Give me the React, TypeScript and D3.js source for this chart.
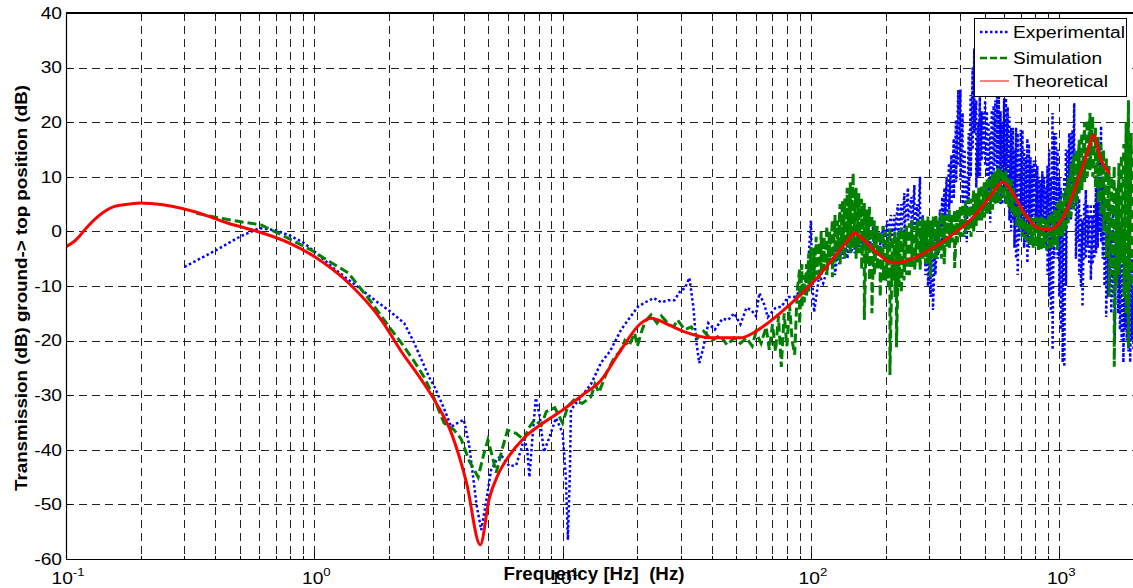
import React from 'react';
import * as d3 from 'd3';

// ---------- data ----------
const theoFreq = [0.1,0.11,0.12,0.135,0.155,0.18,0.2,0.22,0.33,0.45,0.56,0.79,1.0,1.37,1.86,2.24,2.7,3.1,3.56,4.1,4.66,5.06,5.5,6.05,7.0,8.4,10,12,14.3,17,20.7,22.7,27,31,40,52,60,67,86,107,125,141,150,160,185,215,261,300,356,452,520,593,650,720,823,905,1040,1190,1300,1370,1475,1590];
const theoDb = [-2.8,-1.5,0.5,2.8,4.5,5.0,5.2,5.1,3.6,1.5,0.3,-2.1,-4.6,-9.4,-16.2,-22,-27.2,-31.5,-36.9,-46,-57.4,-49,-44.5,-41.3,-37.8,-35,-32.7,-30,-27.2,-22,-16.8,-15.9,-17.2,-18.4,-19.5,-19.5,-18.3,-16.8,-12.6,-8.3,-4.5,-1.6,-0.3,-1.2,-4,-5.8,-4.9,-3.4,-1.2,2.7,6,9.0,7,3.5,0.6,0.3,2.7,9.4,14.5,17.6,13,10.7];

// Experimental, low-frequency part: [Hz, dB]
const experimentalLow: [number, number][] = [
  [0.3,-6.5],[0.4,-3.5],[0.5,-1],[0.6,0.6],[0.7,0.2],[0.8,-0.8],[0.9,-2],[1.04,-4.3],[1.2,-6.8],[1.5,-10.2],[1.8,-13],[2.0,-14.5],[2.3,-16.8],[2.5,-20],[2.9,-26.7],[3.05,-28.5],[3.3,-32],[3.56,-35.8],[3.8,-35],[4.0,-34.5],[4.2,-39],[4.5,-50],[4.7,-54.7],[4.9,-50],[5.15,-43.7],[5.4,-42],[5.66,-41],[6.1,-43],[6.5,-42.8],[6.8,-40],[7.0,-37.7],[7.2,-40],[7.35,-45],[7.55,-38],[7.8,-30.5],[8.1,-34],[8.4,-40.4],[8.8,-38],[9.4,-34.2],[10,-36.9],[10.3,-45],[10.5,-56.5],[10.7,-44],[10.8,-32.7],[12,-30],[13,-28],[14.3,-24],[15.5,-22],[17.2,-18],[18.5,-16],[20.1,-13.8],[21.5,-13],[23.3,-12.2],[25,-13],[26.6,-12.6],[28.2,-12.6],[30,-10.7],[31,-10.5],[32.4,-8.5],[33.6,-13.8],[34.5,-20],[35.5,-24.1],[36.8,-21.5],[38.6,-16.8],[41,-18],[44,-16],[46.5,-16.2],[49,-15],[52,-17],[55,-14],[57.5,-14.4],[60,-15.5],[62,-11.3],[65,-13.5],[67,-15.7],[72,-14],[76,-13.8],[81,-12],[86,-12],[90,-11],[95,-10],[97,-7.6],[100,2],[101,-8],[103,-14.8],[108,-8],[112,-9.5],[118,-6],[123,-3.4]
];
// Experimental, noisy high-frequency part: [Hz, upper dB, lower dB]
const experimentalHigh: [number, number, number][] = [
  [125,-3,-8],[130,-1,-6],[135,-1,-5],[140,-2,-5],[145,-1,-4],[150,-1,-4],[155,0,-3],[160,-1,-3],[166,0,-2],[172,0.3,-3],[178,1,-2],[184,1,-2],[190,0,-3],[196,1,-3],[203,2,-2],[210,3,-2],[217,3,-1],[224,5,-1],[231,5,0],[238,7,0],[246,8,2],[254,6.3,-1],[261,8.5,1],[268,5,-1.6],[275,10,2],[282,3,-2],[289,-1,-8],[296,-2,-10],[303,-3,-12],[310,-4,-14.4],[317,0,-8],[324,2,-5],[331,4,-3],[338,6.3,-2],[345,8,0],[352,10,2],[360,12.5,4],[368,14,5],[376,17,6],[384,20.4,9],[392,25.9,12],[400,26,9.4],[408,21.7,5],[416,15,-1],[424,10,-2],[432,18,5],[440,25,10],[448,30,15],[455,33.5,18],[463,24,8],[471,20,10],[479,24.6,10],[487,22,13],[495,21.7,14],[503,24,12],[511,22,10],[519,20,5],[527,18,1.6],[535,22.2,8],[544,23,10],[553,24,12],[562,24.7,10],[571,24.6,8],[580,22,5],[590,20,5],[600,24.4,8],[610,24.4,10],[620,22.8,6],[630,21,2],[640,19,0],[650,19,2],[660,15,-3],[670,19,-5],[680,18,-8],[690,14,-1.6],[700,18.6,2],[711,18.6,0],[722,15,-3],[733,13.6,-2],[744,17,-5.8],[755,16,-3],[766,13.6,0],[778,12,2],[790,13,3],[803,13,0],[816,12,2],[829,10,0],[842,9.4,1],[855,11,2],[869,10,-2],[883,8,-3],[897,12,-8],[911,15,-12],[925,10,-15],[940,21.7,-21.7],[955,18,-5],[970,18,0],[985,15,-5],[1000,10,-12],[1016,8,-18],[1032,5,-24],[1048,10,-24.8],[1064,15,-10],[1080,15,5],[1097,18,5],[1114,18,2],[1131,18.6,5],[1149,23.5,5],[1167,10,-5],[1185,8,-2],[1203,6,-8],[1222,3,-10],[1241,2,-13.8],[1260,5,-5],[1280,7.6,-5],[1300,5,-3],[1320,3,-6],[1340,5,-8.9],[1362,3,-6],[1384,5,-5],[1406,8,-4],[1428,10,-3],[1451,15,0],[1474,19.3,-2],[1497,10,-5],[1521,5,-10],[1545,3,-15.7],[1570,0,-12],[1595,5,-10],[1620,0,-15],[1646,5,-12],[1672,0,-19.4],[1700,3,-10],[1727,-5,-15],[1755,0,-18],[1783,-5,-20],[1812,2,-24],[1841,0,-18],[1870,-5,-20],[1900,-10,-22],[1930,-8,-24],[1960,-5,-20],[1990,-10,-22]
];

// Simulation, low-frequency part: [Hz, dB]
const simulationLow: [number, number][] = [
  [0.335,3.3],[0.4,2.6],[0.5,1.8],[0.61,1.2],[0.75,-0.8],[0.97,-3.4],[1.15,-5.5],[1.37,-7.6],[1.7,-13],[2.04,-18],[2.24,-20.4],[2.5,-23.5],[2.77,-26.7],[3.0,-30],[3.33,-35.1],[3.66,-36.4],[3.9,-38],[4.2,-42],[4.57,-45],[4.8,-41],[5.0,-38.2],[5.2,-41],[5.4,-44.2],[5.7,-40],[6.0,-36.4],[6.5,-37],[7.0,-38.2],[7.3,-36],[7.7,-34.5],[8.2,-35.5],[8.6,-33],[9.3,-32.3],[10,-35.1],[10.5,-32],[11.1,-30.9],[12,-31.5],[13,-30.3],[13.5,-28],[14,-29.5],[15,-26],[16.2,-23],[17,-22],[17.8,-20],[18.5,-21],[19.5,-18.6],[20,-21],[20.7,-18.6],[21.5,-16.5],[22.7,-15.3],[24,-16.8],[25,-15.5],[26.5,-16.8],[28,-17.5],[29,-16.2],[31,-18],[33,-17.5],[35,-19.5],[37,-18.3],[40,-20],[43,-19],[46,-20.8],[49,-19.5],[52,-20.5],[55,-19.5],[58,-21],[60,-18.5],[63,-20.5],[66,-17.5],[68,-21.7],[70,-17],[72,-22],[74,-15.5],[76,-24.8],[78,-15],[80,-21],[82,-13.5],[84,-20],[86,-22.6],[88,-11]
];
// Simulation, noisy high-frequency part: [Hz, upper dB, lower dB]
const simulationHigh: [number, number, number][] = [
  [90,-7,-17],[92,-6,-14],[94,-8,-13],[96,-6,-12],[98,-4,-11],[100,-2.9,-10],[103,-3,-9],[105,-1,-8],[108,-2,-9],[110,0,-8],[113,-1,-7],[116,1,-8],[119,0,-6],[122,2.1,-8.4],[125,3,-6],[128,2,-5],[131,5,-6],[134,5.7,-4],[137,6,-5.2],[140,8,-3],[144,9,-4],[148,10.7,-3],[152,8,-5],[156,7,-4],[160,6,-7],[164,5.2,-16.2],[168,4,-6],[172,4.5,-9],[176,3,-15],[180,2,-8],[185,1,-7],[190,0,-12],[195,1,-9],[200,0,-9],[205,-1,-10],[208,0.8,-26.3],[213,-1,-9],[218,0,-12],[221,-1,-21.2],[226,0,-10],[231,0.8,-11.3],[237,0,-9],[243,1,-8],[249,1.5,-8],[255,2.1,-6.5],[262,1,-7],[268,2,-6],[275,2,-7],[282,2.5,-5],[289,2,-6],[296,2.7,-6],[303,2,-8.4],[311,2.7,-5],[319,3,-5],[327,2,-4],[335,3.5,-5],[344,3,-6],[352,3,-3],[361,4,-3],[370,3,-2],[379,3.9,-6.7],[389,4,-2],[399,4.5,-1],[409,5,-1],[419,5.5,-0.5],[430,6,0],[441,6,-1],[452,7.6,0],[463,7,1],[475,8,2],[487,8.5,2],[499,9,2.5],[512,9.5,3],[525,10,3.5],[538,10.5,4],[552,11,5],[566,11.6,5.2],[580,11.6,5.5],[595,11,6],[610,11.2,5],[625,10,4.5],[641,9.5,3.5],[657,8,2.5],[674,6,1],[691,4.5,0.3],[709,4,-1],[727,3.5,-1.5],[745,3,-2],[764,2.7,-2.5],[784,2.5,-3],[804,2.7,-3],[824,2.5,-3.4],[845,2.7,-3.4],[867,2.5,-3],[889,2.5,-3.5],[911,3,-3.5],[934,3.5,-3],[958,4,-2.5],[983,5.2,-3.4],[1008,6,-1],[1034,7,-1],[1060,8,0],[1087,10,1.5],[1115,12.5,2.7],[1143,14,4],[1173,15,5],[1203,16.8,7],[1233,18,7.6],[1265,20,9],[1297,20.5,10],[1330,21.7,11.2],[1364,21,10],[1399,19,8],[1435,17.3,5.2],[1472,16,3],[1509,15,0],[1548,13.6,-4.7],[1587,12,-12],[1628,10,-8],[1665,12,-24.8],[1700,8,-10],[1740,12.5,-8],[1780,14,-5.8],[1820,16,-12],[1860,20,-15],[1900,24,-21.2],[1950,18,-10],[1995,15,-8]
];

const yTicks = [40, 30, 20, 10, 0, -10, -20, -30, -40, -50, -60];
const xDecades = [-1, 0, 1, 2, 3];
const legendItems = ['Experimental', 'Simulation', 'Theoretical'];

// ---------- layout ----------
const W = 1133, H = 588;
const L = 66, R = 1134, T = 13, B = 559;
const FONT = "'Liberation Sans', Arial, Helvetica, sans-serif";

const x = d3.scaleLog().domain([0.1, 2000]).range([L, R]);
const y = d3.scaleLinear().domain([-60, 40]).range([B, T]);

const line = d3.line<[number, number]>().x(d => x(d[0])).y(d => y(d[1]));
const smooth = d3.line<[number, number]>().x(d => x(d[0])).y(d => y(d[1])).curve(d3.curveMonotoneX);

// noisy band: each entry is drawn as a swing from its upper to its lower value
const toSwing = (rows: [number, number, number][]): [number, number][] =>
  rows.flatMap(([f, hi, lo]) => [[f, hi], [f, lo]] as [number, number][]);

export default function App() {
  const theo: [number, number][] = theoFreq.map((f, i) => [f, theoDb[i]]);
  const experimental = [...experimentalLow, ...toSwing(experimentalHigh)];
  const simulation = [...simulationLow, ...toSwing(simulationHigh)];

  const gridX: number[] = [];
  const minorX: number[] = [];
  for (const k of [-1, 0, 1, 2, 3]) {
    for (let m = 1; m <= 9; m++) {
      const v = m * Math.pow(10, k);
      if (v <= 0.1 || v > 2000) continue;
      gridX.push(v);
      if (m !== 1) minorX.push(v);
    }
  }
  const legendColors = ['#0000ff', '#008000', '#ff0000'];
  const legendDash = ['2.5 2.5', '7 3', ''];
  const legendW = [2.5, 2.5, 1];
  const legendLen = [112, 89, 95];
  const legendRowY = [32, 58, 81];

  return (
    <svg width={W} height={H} style={{ position: 'absolute', left: 0, top: 0, background: '#fff' }} fontFamily={FONT}>
      <defs>
        <clipPath id="plotclip">
          <rect x={L} y={T} width={W - L} height={B - T} />
        </clipPath>
      </defs>
      <rect x={0} y={0} width={W} height={H} fill="#fff" />
      {/* grid */}
      <g stroke="#222" strokeWidth={1} strokeDasharray="8 5">
        {gridX.map(v => (
          <line key={'gx' + v} x1={Math.round(x(v)) + 0.5} x2={Math.round(x(v)) + 0.5} y1={T} y2={B} />
        ))}
        {yTicks.filter(t => t !== 40 && t !== -60).map(t => (
          <line key={'gy' + t} x1={L} x2={W} y1={Math.round(y(t)) + 0.5} y2={Math.round(y(t)) + 0.5} />
        ))}
      </g>
      {/* ticks */}
      <g stroke="#000" strokeWidth={1}>
        {gridX.map(v => {
          const px = Math.round(x(v)) + 0.5;
          const len = minorX.includes(v) ? 3 : 6;
          return <g key={'t' + v}>
            <line x1={px} x2={px} y1={B} y2={B - len} />
            <line x1={px} x2={px} y1={T} y2={T + len} />
          </g>;
        })}
        {yTicks.map(t => (
          <line key={'yt' + t} x1={L} x2={L + 6} y1={Math.round(y(t)) + 0.5} y2={Math.round(y(t)) + 0.5} />
        ))}
      </g>
      {/* data */}
      <g clipPath="url(#plotclip)" fill="none">
        <path d={line(experimental) || ''} stroke="#0000ff" strokeWidth={2.5} strokeDasharray="2.5 2.5" />
        <path d={line(simulation) || ''} stroke="#008000" strokeWidth={3} strokeDasharray="9 4" />
        <path d={smooth(theo) || ''} stroke="#ff0000" strokeWidth={3} strokeLinejoin="round" />
      </g>
      {/* axes box */}
      <line x1={L + 0.5} x2={L + 0.5} y1={T} y2={B} stroke="#000" strokeWidth={1.2} />
      <line x1={L} x2={W} y1={B + 0.5} y2={B + 0.5} stroke="#000" strokeWidth={1.2} />
      <line x1={L} x2={W} y1={T} y2={T} stroke="#000" strokeWidth={2} />
      {/* y tick labels */}
      {yTicks.map(t => (
        <text key={'yl' + t} transform={`translate(62,${y(t) + 5.8}) scale(1.2,1)`} textAnchor="end" fontSize={16} fill="#000">{t}</text>
      ))}
      {/* x tick labels */}
      {xDecades.map(k => (
        <text key={'xl' + k} transform={`translate(${x(Math.pow(10, k)) + 2},584) scale(1.2,1)`} textAnchor="middle" fontSize={16} fill="#000">
          10<tspan dy={-8} fontSize={11}>{k}</tspan>
        </text>
      ))}
      {/* axis labels */}
      <text x={594} y={580} textAnchor="middle" fontSize={18} fontWeight="bold" textLength={181} lengthAdjust="spacingAndGlyphs">{'Frequency [Hz]\u00a0 (Hz)'}</text>
      <text transform={`translate(27,288) rotate(-90)`} textAnchor="middle" fontSize={17} fontWeight="bold" textLength={406} lengthAdjust="spacingAndGlyphs">Transmission (dB) ground-&gt; top position (dB)</text>
      {/* legend */}
      <rect x={974.5} y={18.5} width={152} height={78} fill="#fff" stroke="#000" strokeWidth={1} />
      {legendItems.map((name, i) => (
        <g key={name}>
          <line x1={980} x2={1009} y1={legendRowY[i]} y2={legendRowY[i]} stroke={legendColors[i]} strokeWidth={legendW[i]} strokeDasharray={legendDash[i] || undefined} />
          <text x={1013} y={legendRowY[i] + 6} fontSize={16} textLength={legendLen[i]} lengthAdjust="spacingAndGlyphs">{name}</text>
        </g>
      ))}
    </svg>
  );
}
